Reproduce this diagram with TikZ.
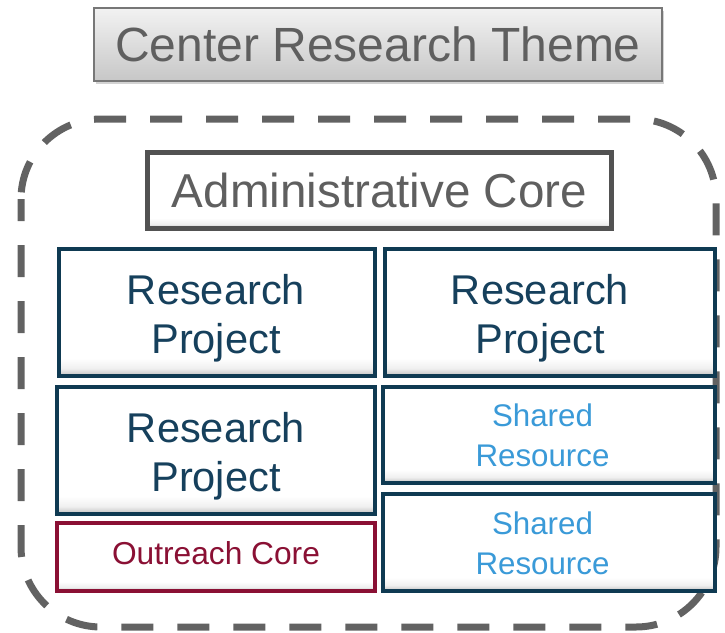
\documentclass[tikz,border=0pt]{standalone}
\usepackage{fontspec}
\setmainfont{Liberation Sans}
\usepackage{tikz}
\usetikzlibrary{shadows}
\definecolor{custom_gray}{HTML}{5f5f5f}
\definecolor{custom_dash}{HTML}{626262}
\definecolor{custom_navy}{HTML}{0f3a52}
\definecolor{custom_navytext}{HTML}{16405c}
\definecolor{custom_blue}{HTML}{3a9ad8}
\definecolor{custom_red}{HTML}{8a1034}
\pgfdeclareverticalshading{bevelshade}{100bp}{color(0bp)=(black!25); color(25bp)=(black!25);
  color(28bp)=(black!6); color(32bp)=(white); color(100bp)=(white)}

\begin{document}
\begin{tikzpicture}[x=1pt, y=-1pt,
    bevel/.style={rectangle, inner sep=0pt, align=center, shading=bevelshade},
    projbox/.style={bevel, draw=custom_navy, line width=4pt},
    projtext/.style={align=center, inner sep=0pt, text=custom_navytext, yshift=-6pt,
      font=\fontsize{41.6}{49}\selectfont},
    resbox/.style={bevel, draw=custom_navy, line width=4pt},
    restext/.style={align=center, inner sep=0pt, text=custom_blue, xshift=-6.5pt,
      font=\fontsize{31.3}{40}\selectfont},
    outbox/.style={bevel, draw=custom_red, line width=4pt},
    outtext/.style={inner sep=0pt, text=custom_red, yshift=4pt,
      font=\fontsize{31.7}{38}\selectfont}]

      \useasboundingbox (0,0) rectangle (725,632);

      % Draw the theme box
      \node[rectangle, draw=custom_gray!85, line width=1.5pt, top color=black!5, bottom color=black!22,
            drop shadow={shadow xshift=2pt, shadow yshift=-3pt, opacity=0.35},
            minimum width=568pt, minimum height=73pt, text=custom_gray,
            font=\fontsize{48}{56}\selectfont] (theme) at (378,44.5) {Center Research Theme};

      % Draw the dashed center outline
      \draw[custom_dash, line width=7pt, dash pattern=on 32pt off 24pt, dash phase=10pt,
            rounded corners=80pt] (21,119) rectangle (716,627);

      % Draw the administrative core
      \node[bevel, draw=black!68, line width=5pt, minimum width=464pt, minimum height=76pt,
            text=custom_gray, font=\fontsize{47.6}{56}\selectfont] (admin) at (379.5,190.5) {Administrative Core};

      % Draw the projects
      \node[projbox, minimum width=316pt, minimum height=127pt,
            label={[projtext, xshift=-1pt]center:Research\\Project}] (proj1) at (217,312.5) {};
      \node[projbox, minimum width=330pt, minimum height=127pt,
            label={[projtext, xshift=-10pt]center:Research\\Project}] (proj2) at (550,312.5) {};
      \node[projbox, minimum width=318pt, minimum height=127pt,
            label={[projtext]center:Research\\Project}] (proj3) at (216,450.5) {};

      % Draw the shared resources
      \node[resbox, minimum width=332pt, minimum height=96pt,
            label={[restext]center:Shared\\Resource}] (shared1) at (549,435) {};
      \node[resbox, minimum width=332pt, minimum height=97pt,
            label={[restext, yshift=-1pt]center:Shared\\Resource}] (shared2) at (549,542.5) {};

      % Draw the outreach core
      \node[outbox, minimum width=318pt, minimum height=68pt,
            label={[outtext]center:Outreach Core}] (outreach) at (216,557) {};

\end{tikzpicture}
\end{document}
